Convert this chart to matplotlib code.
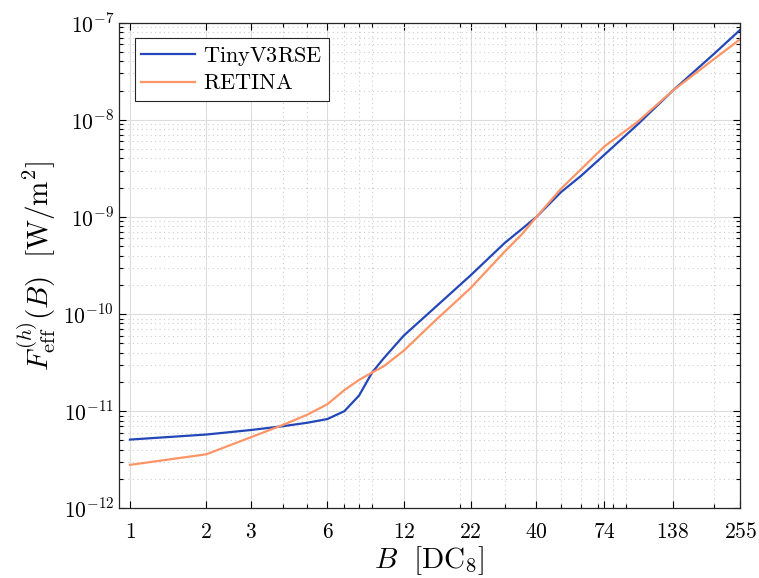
import numpy as np
import matplotlib
matplotlib.use('Agg')
import matplotlib.pyplot as plt
from matplotlib.ticker import FixedLocator, LogLocator, NullFormatter

# Data
B = [1, 2, 3, 4, 5, 6, 7, 8, 9, 10, 12, 16, 22, 30, 35, 40, 50, 60, 74, 100, 138, 200, 255]
tiny = [5.1e-12, 5.75e-12, 6.4e-12, 7.0e-12, 7.6e-12, 8.3e-12, 1.0e-11, 1.45e-11, 2.5e-11,
        3.5e-11, 6.0e-11, 1.18e-10, 2.5e-10, 5.4e-10, 7.5e-10, 1.0e-9, 1.8e-9, 2.65e-9,
        4.35e-9, 8.9e-9, 2.0e-8, 4.75e-8, 8.5e-8]
retina = [2.8e-12, 3.6e-12, 5.4e-12, 7.2e-12, 9.2e-12, 1.18e-11, 1.65e-11, 2.1e-11, 2.5e-11,
          2.9e-11, 4.2e-11, 8.6e-11, 1.85e-10, 4.4e-10, 6.6e-10, 1.0e-9, 1.95e-9, 3.1e-9,
          5.3e-9, 9.5e-9, 2.0e-8, 4.2e-8, 6.8e-8]
xticks = [1, 2, 3, 6, 12, 22, 40, 74, 138, 255]
yticks = [1e-12, 1e-11, 1e-10, 1e-9, 1e-8, 1e-7]

plt.rcParams['mathtext.fontset'] = 'cm'
plt.rcParams['font.family'] = 'serif'

fig = plt.figure(figsize=(7.59, 5.78), dpi=100)
ax = fig.add_axes([0.1568, 0.1206, 0.8188, 0.8401])

ax.plot(B, tiny, color='#2347B9', lw=1.6, label=r'$\mathrm{TinyV3RSE}$')
ax.plot(B, retina, color='#FF9466', lw=1.6, label=r'$\mathrm{RETINA}$')

ax.set_xscale('log')
ax.set_yscale('log')
ax.set_xlim(0.905, 255)
ax.set_ylim(1e-12, 1e-7)

ax.xaxis.set_major_locator(FixedLocator(xticks))
ax.set_xticklabels([f'${t}$' for t in xticks])
ax.xaxis.set_minor_locator(LogLocator(base=10, subs=np.arange(2, 10), numticks=20))
ax.xaxis.set_minor_formatter(NullFormatter())
ax.yaxis.set_major_locator(FixedLocator(yticks))
ax.set_yticklabels([rf'$10^{{{int(np.log10(t))}}}$' for t in yticks])
ax.yaxis.set_minor_locator(LogLocator(base=10, subs=np.arange(2, 10), numticks=20))
ax.yaxis.set_minor_formatter(NullFormatter())

ax.tick_params(which='both', direction='in', top=True, right=True, labelsize=15.5, width=0.8)
ax.tick_params(which='major', length=5)
ax.tick_params(which='minor', length=3)
ax.tick_params(axis='x', pad=9)

ax.grid(which='major', color='#DCDCDC', lw=0.8, ls='-')
ax.grid(which='minor', color='#CDCDCD', lw=0.8, ls=(0, (1, 3)))
ax.set_axisbelow(True)
for s in ax.spines.values():
    s.set_color('#262626')
    s.set_linewidth(0.9)

ax.set_xlabel(r'$B\ \ [\mathrm{DC}_8]$', fontsize=21, labelpad=1)
ax.set_ylabel(r'$F_{\mathrm{eff}}^{(h)}(B)\ \ [\mathrm{W/m^2}]$', fontsize=21)

leg = ax.legend(loc='upper left', fontsize=16, fancybox=False, framealpha=1,
                edgecolor='#262626', handlelength=2.4, borderpad=0.3, labelspacing=0.2,
                borderaxespad=0.7, handletextpad=0.4)
leg.get_frame().set_linewidth(0.8)

fig.savefig('out.png', dpi=100)
